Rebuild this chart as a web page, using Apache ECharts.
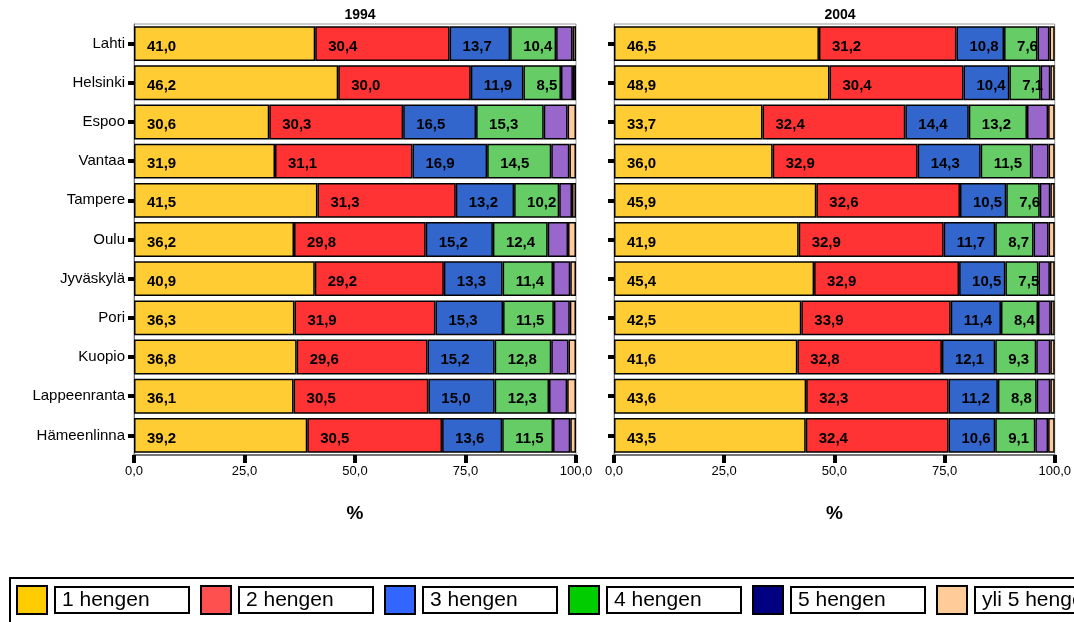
<!DOCTYPE html>
<html>
<head>
<meta charset="utf-8">
<script src="https://cdn.jsdelivr.net/npm/echarts@6/dist/echarts.min.js"></script>
<style>html,body{margin:0;padding:0;background:#fff;}#c{width:1074px;height:622px;}</style>
</head>
<body>
<div id="c"></div>
<script>
const categories = ['Lahti','Helsinki','Espoo','Vantaa','Tampere','Oulu','Jyväskylä','Pori','Kuopio','Lappeenranta','Hämeenlinna'];
const seriesNames = ['1 hengen','2 hengen','3 hengen','4 hengen','5 hengen','yli 5 hengen'];
const years = ['1994','2004'];
const xTicks = [0, 25, 50, 75, 100];

// 1994
const y1994_1 = [41.0, 46.2, 30.6, 31.9, 41.5, 36.2, 40.9, 36.3, 36.8, 36.1, 39.2];
const y1994_2 = [30.4, 30.0, 30.3, 31.1, 31.3, 29.8, 29.2, 31.9, 29.6, 30.5, 30.5];
const y1994_3 = [13.7, 11.9, 16.5, 16.9, 13.2, 15.2, 13.3, 15.3, 15.2, 15.0, 13.6];
const y1994_4 = [10.4, 8.5, 15.3, 14.5, 10.2, 12.4, 11.4, 11.5, 12.8, 12.3, 11.5];
const y1994_5 = [3.7, 2.7, 5.4, 4.1, 2.9, 4.6, 3.9, 3.6, 3.9, 4.1, 3.9];
const y1994_6 = [0.8, 0.7, 1.9, 1.5, 0.9, 1.8, 1.3, 1.4, 1.7, 2.0, 1.3];
// 2004
const y2004_1 = [46.5, 48.9, 33.7, 36.0, 45.9, 41.9, 45.4, 42.5, 41.6, 43.6, 43.5];
const y2004_2 = [31.2, 30.4, 32.4, 32.9, 32.6, 32.9, 32.9, 33.9, 32.8, 32.3, 32.4];
const y2004_3 = [10.8, 10.4, 14.4, 14.3, 10.5, 11.7, 10.5, 11.4, 12.1, 11.2, 10.6];
const y2004_4 = [7.6, 7.1, 13.2, 11.5, 7.6, 8.7, 7.5, 8.4, 9.3, 8.8, 9.1];
const y2004_5 = [2.7, 2.2, 4.8, 3.9, 2.4, 3.4, 2.6, 2.9, 3.2, 3.1, 2.9];
const y2004_6 = [1.2, 1.0, 1.5, 1.4, 1.0, 1.4, 1.1, 0.9, 1.0, 1.0, 1.5];

const barColors = ['#FFCC33','#FF3333','#3366CC','#66CC66','#9966CC','#FFCC99'];
const legendColors = ['#FFCC00','#FF5050','#3366FF','#00CC00','#000080','#FFCC99'];

const data1994 = [y1994_1, y1994_2, y1994_3, y1994_4, y1994_5, y1994_6];
const data2004 = [y2004_1, y2004_2, y2004_3, y2004_4, y2004_5, y2004_6];

const FONT = 'Liberation Sans, Arial, sans-serif';
const fmt = v => Number(v).toFixed(1).replace('.', ',');

function makeSeries(dataSets, idx, stack) {
  return dataSets.map((d, i) => ({
    name: seriesNames[i],
    type: 'bar',
    stack: stack,
    xAxisIndex: idx,
    yAxisIndex: idx,
    barCategoryGap: '11%',
    data: d,
    itemStyle: { color: barColors[i], borderColor: '#000', borderWidth: 1.5 },
    label: {
      show: i < 4,
      position: 'insideLeft',
      distance: 13,
      offset: [0, 3],
      formatter: p => fmt(p.value),
      color: '#000',
      fontWeight: 'bold',
      fontSize: 15,
      fontFamily: FONT
    },
    emphasis: { disabled: true }
  }));
}

const grids = [
  { left: 134, top: 24, width: 442, height: 431 },
  { left: 614, top: 24, width: 442, height: 431 }
];

function xAx(i) {
  return {
    type: 'value', gridIndex: i, min: 0, max: 100, interval: 25,
    name: '%', nameLocation: 'middle', nameGap: 49,
    nameTextStyle: { fontSize: 19, fontWeight: 'bold', color: '#000', fontFamily: FONT },
    axisLine: { show: true, lineStyle: { color: '#777', width: 2 } },
    axisTick: { show: true, length: 8, lineStyle: { color: '#000', width: 4 } },
    axisLabel: { margin: 10, fontSize: 13, color: '#000', fontFamily: FONT, formatter: v => fmt(v) },
    splitLine: { show: false }
  };
}
function yAx(i) {
  return {
    type: 'category', gridIndex: i, data: categories, inverse: true,
    axisLine: { show: true, lineStyle: { color: '#777', width: 1 } },
    axisTick: { show: true, alignWithLabel: true, length: 6, lineStyle: { color: '#000', width: 4 } },
    axisLabel: { show: i === 0, margin: 9, fontSize: 15, color: '#000', fontFamily: FONT }
  };
}

const option = {
  animation: false,
  backgroundColor: '#fff',
  title: years.map((y, i) => ({
    text: y, left: i === 0 ? 355 : 835, top: 3, textAlign: 'center',
    textStyle: { fontSize: 14, fontWeight: 'bold', color: '#000', fontFamily: FONT }
  })),
  grid: grids.map(g => Object.assign({ show: true, borderColor: '#999', borderWidth: 1, backgroundColor: 'transparent' }, g)),
  xAxis: [xAx(0), xAx(1)],
  yAxis: [yAx(0), yAx(1)],
  legend: {
    left: 10, top: 578, width: 1200,
    orient: 'horizontal',
    padding: [7, 6, 20, 6],
    borderColor: '#000', borderWidth: 2,
    itemWidth: 30, itemHeight: 28, itemGap: 10,
    icon: 'rect',
    selectedMode: false,
    itemStyle: { borderColor: '#000', borderWidth: 2 },
    formatter: n => '{g| }{b|' + n + '}',
    textStyle: {
      fontSize: 21, fontFamily: FONT, color: '#000',
      rich: {
        g: { width: 4, fontSize: 21 },
        b: {
          fontSize: 21, fontFamily: FONT, color: '#000',
          width: 120, padding: [2, 6, 1, 6], lineHeight: 22,
          borderColor: '#000', borderWidth: 2, backgroundColor: '#fff'
        }
      }
    },
    data: seriesNames.map((n, i) => ({ name: n, itemStyle: { color: legendColors[i], borderColor: '#000', borderWidth: 2 } }))
  },
  series: makeSeries(data1994, 0, 's1994').concat(makeSeries(data2004, 1, 's2004'))
};

const chart = echarts.init(document.getElementById('c'), null, { renderer: 'canvas' });
chart.setOption(option);
</script>
</body>
</html>
